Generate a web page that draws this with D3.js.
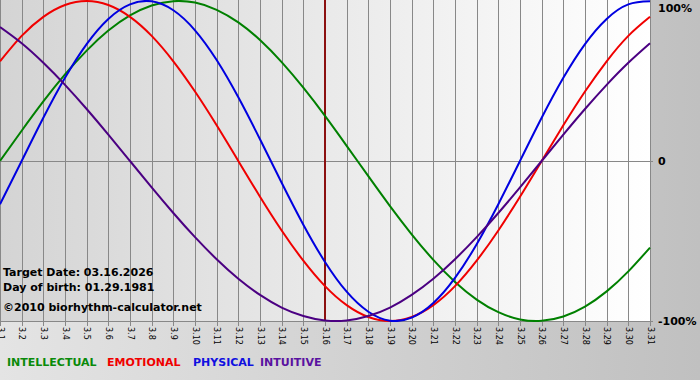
<!DOCTYPE html>
<html>
<head>
<meta charset="utf-8">
<script src="https://cdn.jsdelivr.net/npm/d3@7"></script>
<style>
  body { margin: 0; }
  svg { display: block; font-family: Verdana, "DejaVu Sans", sans-serif; }
</style>
</head>
<body>
<svg id="chart" width="700" height="380"></svg>
<script>
// days of March shown on the axis
const days = d3.range(1, 32);
const dayLabels = days.map(d => '3.' + d);

// percent values, one per day
const intellectual = [0, 18.9, 37.2, 54.1, 69.0, 81.5, 91.0, 97.2, 99.9, 99.0, 94.5, 86.6, 75.6, 61.8, 45.8, 28.2, 9.5, -9.5, -28.2, -45.8, -61.8, -75.6, -86.6, -94.5, -99.0, -99.9, -97.2, -91.0, -81.5, -69.0, -54.1];
const emotional = [62.3, 78.2, 90.1, 97.5, 100, 97.5, 90.1, 78.2, 62.3, 43.4, 22.3, 0, -22.3, -43.4, -62.3, -78.2, -90.1, -97.5, -100, -97.5, -90.1, -78.2, -62.3, -43.4, -22.3, 0, 22.3, 43.4, 62.3, 78.2, 90.1];
const physical = [-27.0, 0, 27.0, 52.0, 73.1, 88.8, 97.9, 99.8, 94.2, 81.7, 63.1, 39.8, 13.6, -13.6, -39.8, -63.1, -81.7, -94.2, -99.8, -97.9, -88.8, -73.1, -52.0, -27.0, 0, 27.0, 52.0, 73.1, 88.8, 97.9, 99.8];
const intuitive = [83.7, 73.6, 61.4, 47.6, 32.5, 16.5, 0, -16.5, -32.5, -47.6, -61.4, -73.6, -83.7, -91.6, -96.9, -99.7, -99.7, -96.9, -91.6, -83.7, -73.6, -61.4, -47.6, -32.5, -16.5, 0, 16.5, 32.5, 47.6, 61.4, 73.6];

const yTicks = [100, 0, -100];
const yTickLabels = ['100%', '0', '-100%'];
const targetDay = 16;
const infoLines = ['Target Date: 03.16.2026', 'Day of birth: 01.29.1981', '\u00a92010 biorhythm-calculator.net'];

const series = [
    { name: 'INTELLECTUAL', values: intellectual, color: '#008000', text: '#0a8a0a' },
    { name: 'EMOTIONAL', values: emotional, color: '#f00000', text: '#f00000' },
    { name: 'PHYSICAL', values: physical, color: '#0000e0', text: '#1010e0' },
    { name: 'INTUITIVE', values: intuitive, color: '#4b0082', text: '#5a12a0' }
];

const svg = d3.select('#chart');
const plotWidth = 650;
const plotHeight = 321;

const xScale = d3.scaleLinear().domain([1, 31]).range([0, plotWidth]);
const yScale = d3.scaleLinear().domain([-100, 100]).range([plotHeight, 1]);

const defs = svg.append('defs');
const bgGrad = defs.append('linearGradient').attr('id', 'bgGrad');
bgGrad.append('stop').attr('offset', '0%').attr('stop-color', '#e4e4e4');
bgGrad.append('stop').attr('offset', '100%').attr('stop-color', '#c0c0c0');
const plotGrad = defs.append('linearGradient').attr('id', 'plotGrad');
plotGrad.append('stop').attr('offset', '0%').attr('stop-color', '#d4d4d4');
plotGrad.append('stop').attr('offset', '100%').attr('stop-color', '#ffffff');

svg.append('rect').attr('width', 700).attr('height', 380).attr('fill', 'url(#bgGrad)');
svg.append('rect').attr('width', plotWidth).attr('height', plotHeight).attr('fill', 'url(#plotGrad)');

// vertical day grid + ticks below the plot
const xAxis = d3.axisBottom(xScale)
    .tickValues(days)
    .tickFormat((d, i) => dayLabels[i])
    .tickSize(plotHeight + 5)
    .tickSizeOuter(0);

const gx = svg.append('g').attr('class', 'x-axis').call(xAxis);
gx.select('.domain').remove();
gx.selectAll('.tick line')
    .attr('stroke', '#888')
    .attr('shape-rendering', 'crispEdges');
gx.selectAll('.tick text')
    .attr('transform', `translate(0,${plotHeight + 6}) rotate(90)`)
    .attr('x', 0)
    .attr('y', 0)
    .attr('dy', '0.35em')
    .attr('text-anchor', 'start')
    .attr('font-family', 'Verdana, "DejaVu Sans", sans-serif')
    .attr('font-size', 8)
    .attr('fill', '#000');

// zero line and plot bottom
svg.selectAll('line.hgrid')
    .data([0, -100])
    .enter()
    .append('line')
    .attr('class', 'hgrid')
    .attr('x1', 0)
    .attr('x2', plotWidth + 3)
    .attr('y1', d => Math.round(yScale(d)) + 0.5)
    .attr('y2', d => Math.round(yScale(d)) + 0.5)
    .attr('stroke', '#888');

// right side labels
svg.selectAll('text.ylab')
    .data(yTicks)
    .enter()
    .append('text')
    .attr('class', 'ylab')
    .attr('x', 658)
    .attr('y', d => Math.max(8, yScale(d)))
    .attr('dy', '0.35em')
    .attr('font-size', 11)
    .attr('font-weight', 'bold')
    .attr('fill', '#000')
    .text((d, i) => yTickLabels[i]);

// target day marker
svg.append('line')
    .attr('x1', xScale(targetDay))
    .attr('x2', xScale(targetDay))
    .attr('y1', 0)
    .attr('y2', plotHeight)
    .attr('stroke', '#8b1010')
    .attr('stroke-width', 2);

// info text
svg.selectAll('text.info')
    .data(infoLines)
    .enter()
    .append('text')
    .attr('class', 'info')
    .attr('x', 3)
    .attr('y', (d, i) => [276, 291, 311][i])
    .attr('font-size', 11)
    .attr('font-weight', 'bold')
    .attr('fill', '#000')
    .text(d => d);

const lineGen = d3.line()
    .x((d, i) => xScale(days[i]))
    .y(d => yScale(d))
    .curve(d3.curveNatural);

svg.append('clipPath').attr('id', 'plotClip')
    .append('rect').attr('width', plotWidth + 1).attr('height', plotHeight + 1);

svg.append('g')
    .attr('clip-path', 'url(#plotClip)')
    .selectAll('path.series')
    .data(series)
    .enter()
    .append('path')
    .attr('class', 'series')
    .attr('d', d => lineGen(d.values))
    .attr('fill', 'none')
    .attr('stroke', d => d.color)
    .attr('stroke-width', 2);

// legend
const legendX = [7, 107, 193, 260];
svg.selectAll('text.legend')
    .data(series)
    .enter()
    .append('text')
    .attr('class', 'legend')
    .attr('x', (d, i) => legendX[i])
    .attr('y', 366)
    .attr('font-size', 11)
    .attr('font-weight', 'bold')
    .attr('fill', d => d.text)
    .text(d => d.name);
</script>
</body>
</html>
